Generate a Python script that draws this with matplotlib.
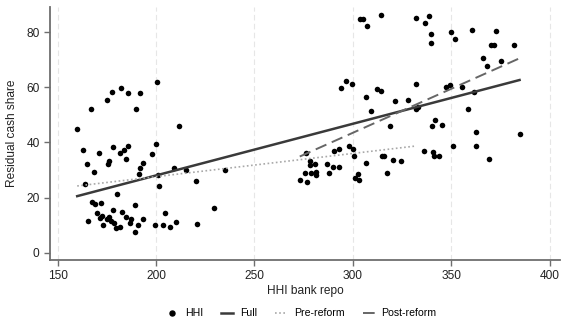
#!/usr/bin/env python3
# -*- coding: utf-8 -*-

"""
scatter of residual cash share against HHI bank repo, with fitted lines
"""

import numpy as np
import matplotlib as mpl
mpl.use("Agg")
import matplotlib.pyplot as plt
from matplotlib.lines import Line2D

mpl.rcParams['font.family'] = ['Liberation Sans', 'DejaVu Sans']
mpl.rcParams['font.size'] = 8.6

# data
hhi = [200.5, 177.8, 182.0, 185.9, 192.0, 175.3, 166.8, 189.7, 160.1, 211.8,
       200.0, 163.1, 171.2, 178.0, 185.9, 183.9, 181.9, 184.9, 197.9, 164.8,
       176.0, 175.8, 193.2, 192.0, 168.5, 191.3, 209.2, 215.2, 200.8, 220.4,
       201.6, 164.1, 180.3, 167.7, 168.9, 172.2, 189.5, 165.5, 169.9, 172.6,
       171.4, 172.9, 175.3, 176.3, 177.1, 178.3, 178.8, 179.7, 181.9, 182.9,
       184.6, 187.4, 186.9, 190.8, 189.5, 193.5, 199.5, 204.7, 203.5, 207.2,
       210.1, 220.8, 235.0, 229.5,
       276.0, 278.2, 280.6, 278.4, 275.5, 278.6, 281.3, 281.3, 273.0, 276.7,
       286.7, 287.7, 289.9, 290.4, 292.8, 292.9, 297.9, 300.0, 300.4, 306.5,
       300.9, 303.3, 302.4, 314.8, 316.0, 317.5, 320.2, 324.4, 336.1, 340.8,
       341.1, 343.7, 350.6, 362.6, 362.6, 368.9, 384.6, 318.8, 340.0, 341.6,
       345.0,
       309.2, 321.2, 328.0, 332.2, 333.2, 294.0, 296.5, 299.5, 306.8, 312.2,
       314.4, 331.8, 347.4, 349.3, 355.3, 361.4, 358.4, 365.8, 368.0, 375.0,
       370.0, 371.5, 381.7, 303.8, 305.1, 307.0, 314.3, 332.0, 336.8, 338.8,
       339.5, 339.6, 349.6, 351.8, 360.3, 372.6]
cash = [62.1, 58.4, 59.7, 58.1, 58.0, 55.4, 52.3, 52.3, 45.0, 46.1,
        39.6, 37.3, 36.3, 38.5, 38.8, 37.3, 36.3, 34.1, 35.8, 32.3,
        33.4, 32.2, 32.6, 30.9, 29.2, 28.7, 30.7, 30.0, 28.1, 26.0,
        24.2, 25.0, 21.4, 18.3, 17.6, 18.1, 17.4, 11.6, 14.2, 13.4,
        12.5, 10.1, 12.3, 13.1, 11.6, 15.4, 10.9, 9.1, 9.4, 14.8,
        12.8, 12.2, 10.9, 10.1, 7.3, 12.3, 10.1, 14.4, 10.1, 9.2,
        11.0, 10.5, 30.0, 16.2,
        36.2, 33.4, 32.2, 31.7, 28.8, 28.8, 29.4, 28.2, 26.4, 25.6,
        32.1, 29.0, 31.2, 36.9, 37.5, 31.2, 38.6, 37.5, 35.0, 32.6,
        27.1, 26.4, 28.7, 35.1, 35.0, 29.0, 33.6, 33.2, 36.9, 36.4,
        35.0, 35.2, 38.7, 43.9, 38.8, 34.1, 43.0, 46.0, 46.1, 48.2,
        46.5,
        51.5, 55.1, 55.3, 52.2, 52.8, 59.9, 62.4, 61.3, 56.6, 59.5,
        58.8, 61.3, 60.3, 60.8, 60.0, 58.4, 52.3, 70.8, 67.9, 69.7,
        75.4, 75.6, 75.6, 84.8, 84.8, 82.2, 86.3, 85.1, 83.5, 85.8,
        79.5, 76.2, 80.2, 77.5, 80.9, 80.5]

# fitted lines (end points)
full_x = [160.0, 384.6]
full_y = [20.5, 62.7]
pre_x = [160.0, 331.7]
pre_y = [24.2, 38.7]
post_x = [273.0, 384.6]
post_y = [34.9, 70.6]

xticks = [150, 200, 250, 300, 350, 400]
yticks = [0, 20, 40, 60, 80]


if __name__ == "__main__":
    fig = plt.figure(figsize=(5.62, 3.22), dpi=100)
    ax1 = fig.add_axes([0.089, 0.193, 0.907, 0.785])

    # vertical dashed grid like stata
    for xt in xticks:
        ax1.axvline(xt, color='#e6e6e6', lw=0.8, ls=(0, (5, 3)), zorder=0)

    ax1.scatter(hhi, cash, s=16, color='black', lw=0, zorder=3)
    ax1.plot(full_x, full_y, color='#3a3a3a', lw=1.8, zorder=4)
    ax1.plot(pre_x, pre_y, color='#a8a8a8', lw=1.2, ls=(0, (1, 1.5)), zorder=4)
    ax1.plot(post_x, post_y, color='#666666', lw=1.4, ls=(0, (6, 3)), zorder=4)

    ax1.set_xlim(146.2, 405)
    ax1.set_ylim(-2.65, 89.2)
    ax1.set_xticks(xticks)
    ax1.set_yticks(yticks)

    ax1.set_xlabel('HHI bank repo', color='#222222', labelpad=2)
    ax1.set_ylabel('Residual cash share', color='#222222', labelpad=6)

    ax1.spines['top'].set_visible(False)
    ax1.spines['right'].set_visible(False)
    for sp in ['left', 'bottom']:
        ax1.spines[sp].set_color('#6e6e6e')
        ax1.spines[sp].set_linewidth(1.3)
    ax1.tick_params(colors='#6e6e6e', labelcolor='#222222', length=4,
                    width=1.0, direction='out', labelsize=8.6)

    handles = [
        Line2D([], [], marker='o', ls='none', color='black', markersize=3.6),
        Line2D([], [], color='#3a3a3a', lw=1.8),
        Line2D([], [], color='#a8a8a8', lw=1.2, ls=(0, (1, 1.5))),
        Line2D([], [], color='#666666', lw=1.4, ls=(0, (6, 3))),
    ]
    labels = ['HHI', 'Full', 'Pre-reform', 'Post-reform']
    fig.legend(handles, labels, loc='center', bbox_to_anchor=(0.536, 0.027),
               ncol=4, frameon=False, handlelength=1.15, handletextpad=0.65,
               columnspacing=1.7, fontsize=7.6, borderpad=0.1)

    plt.savefig('out.png', dpi=100)
